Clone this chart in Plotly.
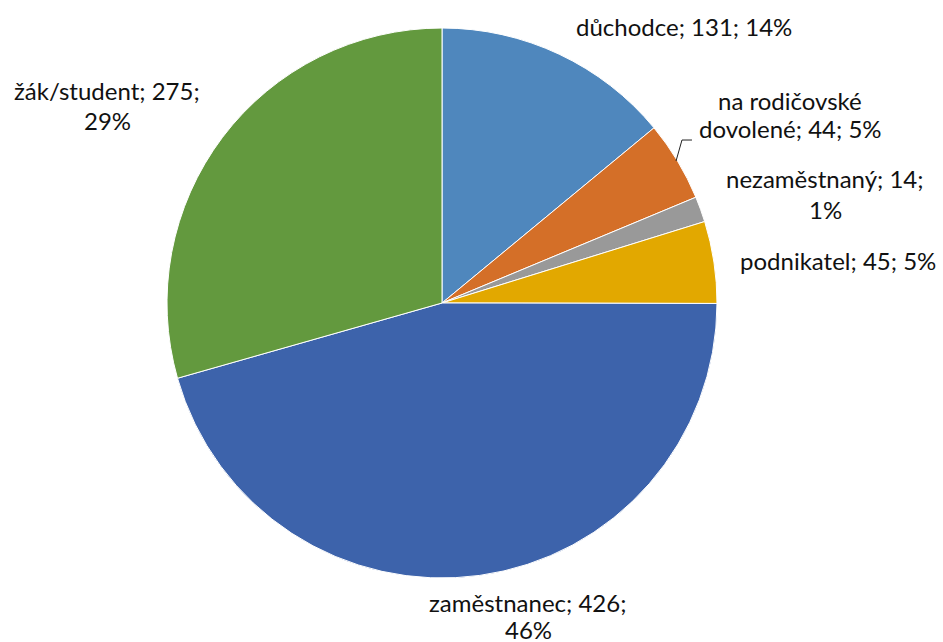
import plotly.graph_objects as go

W, H = 943, 642

labels = ["důchodce", "na rodičovské dovolené", "nezaměstnaný", "podnikatel", "zaměstnanec", "žák/student"]
values = [131, 44, 14, 45, 426, 275]
colors = ["#4F87BD", "#D46F28", "#999999", "#E2A800", "#3D63AB", "#63993E"]

total = sum(values)
pct = [round(v * 100 / total) for v in values]

# label text with manual line breaks, like the original
label_lines = [
    "{0}; {1}; {2}%",
    "na rodičovské<br>dovolené; {1}; {2}%",
    "{0}; {1};<br>{2}%",
    "{0}; {1}; {2}%",
    "{0}; {1};<br>{2}%",
    "{0}; {1};<br>{2}%",
]
# label line centres in screen pixels: x, then y of each line
label_x = [684, 790, 825, 838, 528, 107]
label_y = [[27], [101, 129], [179, 209], [260], [602, 629], [90, 120]]


def px(x):
    return x / W


def py(y):
    return 1 - y / H


fig = go.Figure()
fig.add_trace(go.Pie(
    labels=labels, values=values, sort=False, direction="clockwise", rotation=0,
    marker=dict(colors=colors, line=dict(color="white", width=1)),
    textinfo="none", showlegend=False, hoverinfo="label+value+percent",
    domain=dict(x=[px(167), px(717)], y=[py(578), py(28)]),
))

for i in range(len(labels)):
    text = label_lines[i].format(labels[i], values[i], pct[i])
    for line, y in zip(text.split("<br>"), label_y[i]):
        fig.add_annotation(
            x=px(label_x[i]), y=py(y), xref="paper", yref="paper",
            text=line, showarrow=False, xanchor="center", yanchor="middle",
            font=dict(family="Lato", size=24, color="#111111"),
        )

# leader line for the small orange slice
fig.add_shape(type="path", xref="paper", yref="paper",
              path="M {:.4f} {:.4f} L {:.4f} {:.4f} L {:.4f} {:.4f}".format(
                  px(676), py(161), px(682), py(140), px(692), py(140)),
              line=dict(color="#222222", width=1))

fig.update_layout(
    width=W, height=H, margin=dict(l=0, r=0, t=0, b=0),
    paper_bgcolor="white", plot_bgcolor="white",
)

# drop the default 8px body margin so the figure fills the window
fig.write_html("out.html", config={"displayModeBar": False},
               post_script="document.body.style.margin='0';")
